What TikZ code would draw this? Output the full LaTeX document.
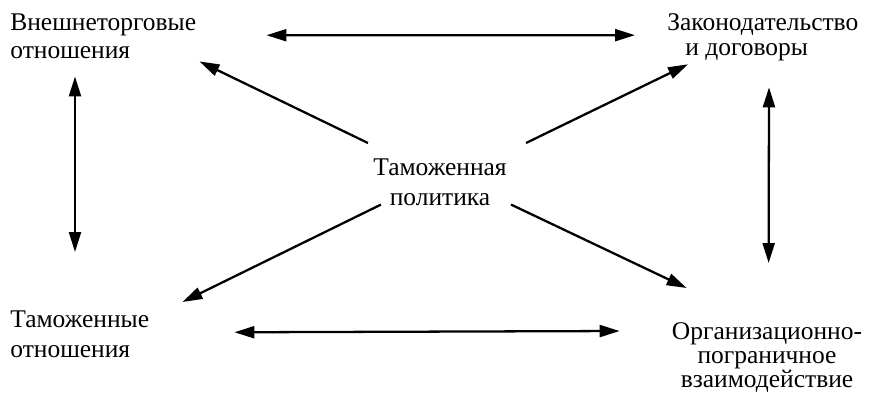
\documentclass[tikz,border=0pt]{standalone}
\usepackage{fontspec}
\setmainfont{Liberation Serif}
\usetikzlibrary{arrows.meta, positioning}

\tikzset{
  lbl/.style={inner sep=0pt, font=\fontsize{14.5}{#1}\selectfont},
  lbl/.default=16.5,
  arr/.style={-{Triangle[length=0.4cm, width=0.24cm]}, line width=1.3pt},
  darr/.style={{Triangle[length=0.4cm, width=0.24cm]}-{Triangle[length=0.4cm, width=0.24cm]}, line width=1.3pt}
}

\begin{document}
\begin{tikzpicture}[x=0.02cm, y=-0.02cm]
\useasboundingbox (0,0) rectangle (875,393);
% the five blocks
\node[lbl=16.4, align=left, anchor=north west] (vnesh) at (10,13) {Внешнеторговые\\отношения};
\node[lbl=14.4, align=left, anchor=north west] (zakon) at (667,13) {Законодательство\\\hspace*{0.36cm}и договоры};
\node[lbl=17.6, align=center, anchor=north] (polit) at (440,158) {Таможенная\\политика};
\node[lbl=17.6, align=left, anchor=north west] (tamoj) at (10,310) {Таможенные\\отношения};
\node[lbl=13.8, align=center, anchor=north] (org) at (767,322) {Организационно-\\пограничное\\взаимодействие};
% from the centre outwards
\draw[arr] ([shift={(-5,-15)}]polit.north west) -- ([shift={(3,2)}]vnesh.south east);
\draw[arr] ([shift={(19,-15)}]polit.north east) -- ([shift={(21,3)}]zakon.south west);
\draw[arr] ([shift={(8,-2)}]polit.south west) -- ([shift={(33,-8)}]tamoj.north east);
\draw[arr] ([shift={(4,-2)}]polit.south east) -- ([shift={(15,-34)}]org.north west);
% links round the edge
\draw[darr] ([shift={(70,-1)}]vnesh.east) -- ([shift={(-32,-2)}]zakon.west);
\draw[darr] ([shift={(85,-2)}]tamoj.east) -- ([shift={(-52,9)}]org.north west);
\draw[darr] ([shift={(65,17)}]vnesh.south west) -- ([shift={(65,-58)}]tamoj.north west);
\draw[darr] ([shift={(102,26)}]zakon.south west) -- ([shift={(97,-59)}]org.north west);
\end{tikzpicture}
\end{document}
